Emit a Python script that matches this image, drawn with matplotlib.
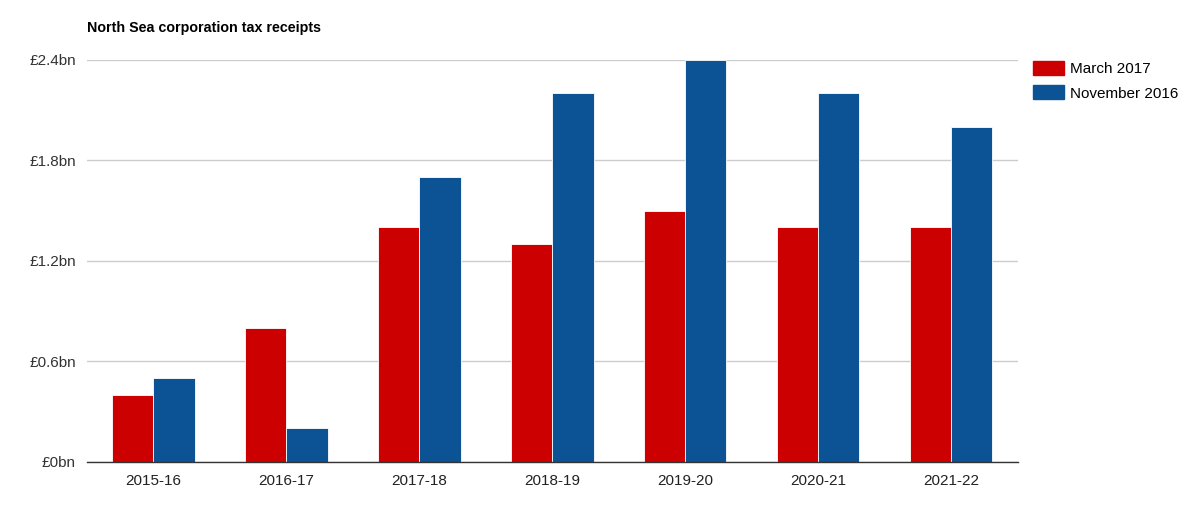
import numpy as np
import matplotlib.pyplot as plt
from matplotlib.patches import Patch

plt.rcParams["font.family"] = ["Liberation Sans", "DejaVu Sans"]

years = ["2015-16", "2016-17", "2017-18", "2018-19", "2019-20", "2020-21", "2021-22"]
march_2017 = [0.4, 0.8, 1.4, 1.3, 1.5, 1.4, 1.4]
november_2016 = [0.5, 0.2, 1.7, 2.2, 2.4, 2.2, 2.0]
yticks = [0, 0.6, 1.2, 1.8, 2.4]
ylabels = ["£0bn", "£0.6bn", "£1.2bn", "£1.8bn", "£2.4bn"]

red = "#cc0000"
blue = "#0b5394"

fig = plt.figure(figsize=(12, 5.12), dpi=100)
ax = fig.add_axes([0.0725, 0.0977, 0.7755, 0.7853])

x = np.arange(len(years))
w = 0.31
ax.bar(x - w / 2, march_2017, w, color=red, edgecolor="white", linewidth=0.6, zorder=3)
ax.bar(x + w / 2, november_2016, w, color=blue, edgecolor="white", linewidth=0.6, zorder=3)

ax.set_xlim(-0.5, len(years) - 0.5)
ax.set_ylim(0, 2.4)
ax.set_yticks(yticks)
ax.set_yticklabels(ylabels, fontsize=11, color="#333333")
ax.set_xticks(x)
ax.set_xticklabels(years, fontsize=11, color="#222222")
ax.tick_params(axis="both", length=0)
ax.tick_params(axis="y", pad=8)
ax.tick_params(axis="x", pad=9)
ax.yaxis.grid(True, color="#cccccc", linewidth=1, zorder=0)
for s in ["top", "right", "left"]:
    ax.spines[s].set_visible(False)
ax.spines["bottom"].set_color("#333333")
ax.spines["bottom"].set_linewidth(1)
ax.spines["bottom"].set_zorder(4)

fig.text(0.0725, 0.945, "North Sea corporation tax receipts", fontsize=10.3,
         fontweight="bold", ha="left", va="center")

handles = [Patch(color=red, label="March 2017"), Patch(color=blue, label="November 2016")]
fig.legend(handles=handles, loc="upper left", bbox_to_anchor=(0.856, 0.893),
           frameon=False, fontsize=11, handlelength=2.0, handleheight=1.0,
           handletextpad=0.4, labelspacing=0.62, borderaxespad=0)

fig.savefig("out.png", dpi=100)
